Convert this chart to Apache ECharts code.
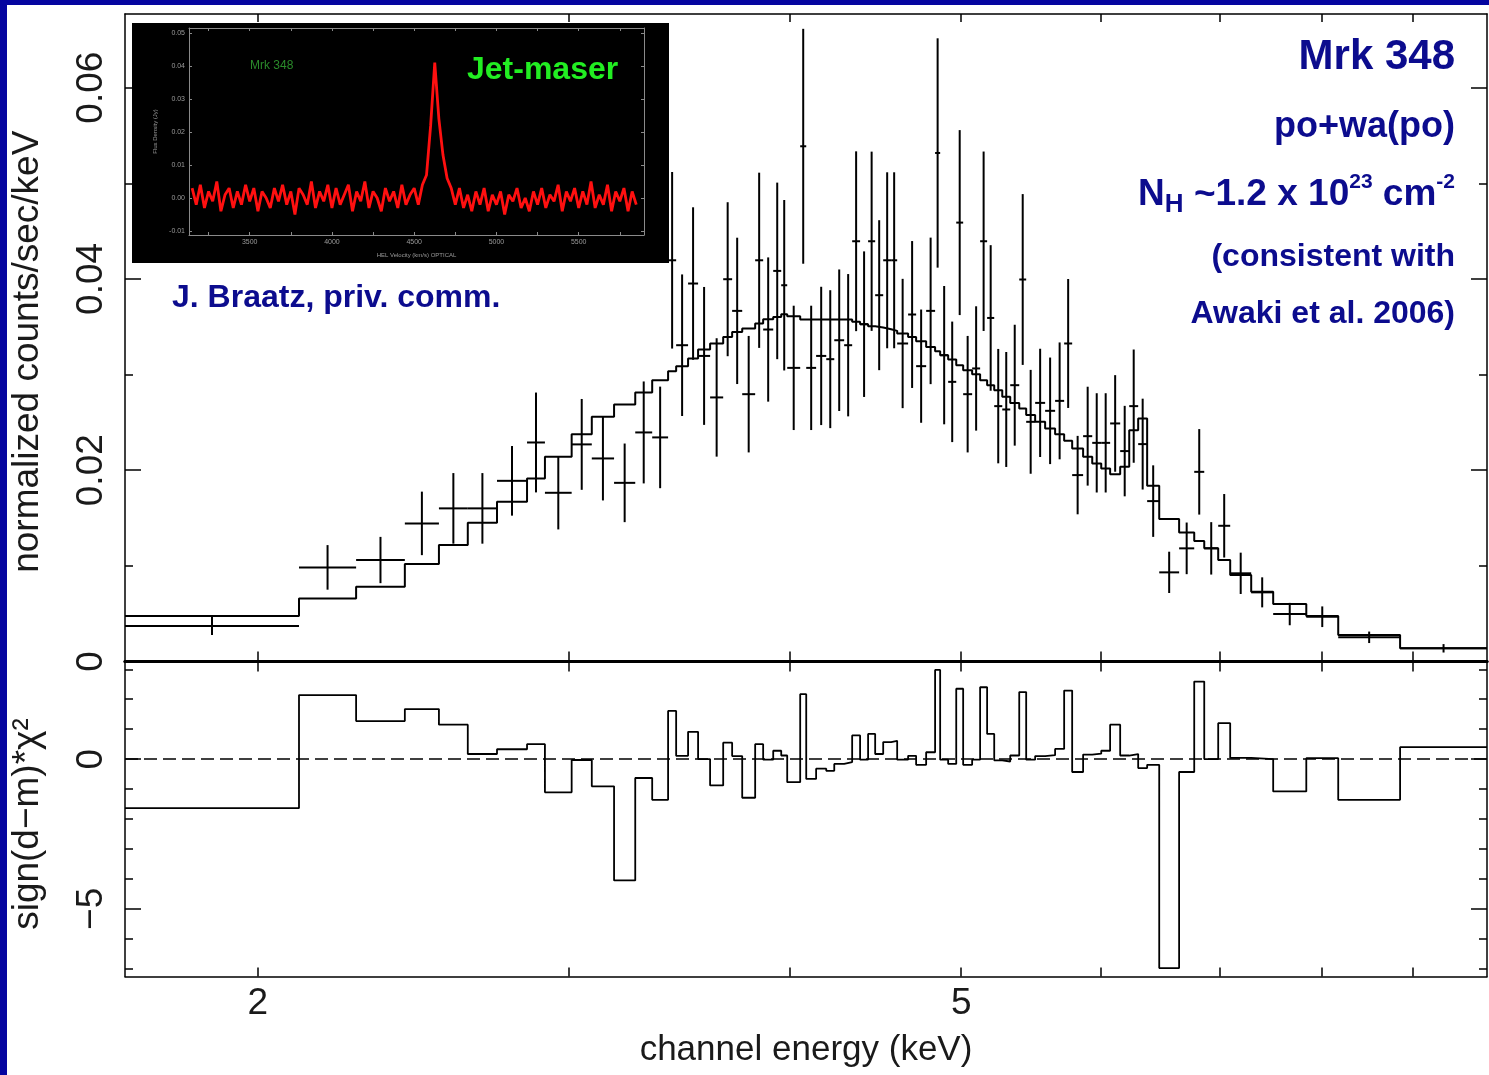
<!DOCTYPE html>
<html>
<head>
<meta charset="utf-8">
<title>Mrk 348 - spectrum and residuals</title>
<script src="https://cdn.jsdelivr.net/npm/echarts@6/dist/echarts.min.js"></script>
<style>
  html, body { margin: 0; padding: 0; background: #0505a0; overflow: hidden; }
  #panel { position: absolute; left: 7px; top: 5px; right: 0; bottom: 0; background: #fff; }
  #chart { position: absolute; left: 0; top: 0; width: 1489px; height: 1075px; }
</style>
</head>
<body>
<div id="panel"></div>
<div id="chart"></div>
<script>
// ---- spectrum (keV bins, counts/sec/keV) ----
var binEdges = [1.682, 2.110, 2.273, 2.422, 2.532, 2.629, 2.731, 2.840, 2.907, 3.010,
  3.090, 3.181, 3.270, 3.343, 3.413, 3.449, 3.503, 3.549, 3.605, 3.667,
  3.710, 3.759, 3.823, 3.863, 3.914, 3.955, 3.986, 4.054, 4.086, 4.139,
  4.194, 4.238, 4.293, 4.338, 4.383, 4.429, 4.470, 4.517, 4.564, 4.600,
  4.666, 4.715, 4.777, 4.833, 4.865, 4.916, 4.968, 5.013, 5.072, 5.125,
  5.172, 5.220, 5.275, 5.330, 5.393, 5.442, 5.506, 5.578, 5.651, 5.718,
  5.778, 5.861, 5.931, 6.001, 6.071, 6.151, 6.224, 6.297, 6.371, 6.472,
  6.642, 6.774, 6.863, 6.989, 7.099, 7.296, 7.508, 7.839, 8.172, 8.858, 9.920];

var dataCounts = [0.00371, 0.00984, 0.01061, 0.01444, 0.01601, 0.01601, 0.01889, 0.02290, 0.01764, 0.02270,
  0.02123, 0.01868, 0.02395, 0.02343, 0.04195, 0.03307, 0.03952, 0.03195, 0.02761, 0.03997,
  0.03666, 0.02795, 0.04195, 0.03471, 0.04084, 0.03934, 0.03070, 0.05387, 0.03070, 0.03195,
  0.03161, 0.03359, 0.03307, 0.04394, 0.03527, 0.04394, 0.03830, 0.04195, 0.04195, 0.03325,
  0.03628, 0.03088, 0.03666, 0.05317, 0.03203, 0.02924, 0.04589, 0.02795, 0.03064, 0.04394,
  0.03592, 0.02670, 0.02635, 0.02889, 0.03994, 0.02506, 0.02704, 0.02621, 0.02725, 0.03325,
  0.01949, 0.02356, 0.02286, 0.02286, 0.02489, 0.02200, 0.02670, 0.02273, 0.01677, 0.00932,
  0.01183, 0.01983, 0.01183, 0.01419, 0.00922, 0.00723, 0.00496, 0.00468, 0.00253, 0.00138];

var dataErr = [0.00094, 0.00233, 0.00242, 0.00332, 0.00369, 0.00369, 0.00364, 0.00522, 0.00383, 0.00475,
  0.00439, 0.00411, 0.00533, 0.00531, 0.00923, 0.00740, 0.00797, 0.00721, 0.00619, 0.00805,
  0.00765, 0.00609, 0.00916, 0.00754, 0.00923, 0.00891, 0.00650, 0.01228, 0.00650, 0.00723,
  0.00721, 0.00740, 0.00744, 0.00940, 0.00761, 0.00937, 0.00784, 0.00920, 0.00920, 0.00676,
  0.00768, 0.00592, 0.00766, 0.01199, 0.00723, 0.00630, 0.00967, 0.00609, 0.00650, 0.00938,
  0.00761, 0.00598, 0.00601, 0.00632, 0.00893, 0.00543, 0.00566, 0.00557, 0.00611, 0.00674,
  0.00410, 0.00517, 0.00519, 0.00519, 0.00505, 0.00473, 0.00592, 0.00475, 0.00374, 0.00216,
  0.00270, 0.00447, 0.00274, 0.00332, 0.00216, 0.00157, 0.00117, 0.00108, 0.00060, 0.00044];

var modelCounts = [0.00475, 0.00660, 0.00782, 0.01019, 0.01217, 0.01450, 0.01670, 0.01914, 0.02140, 0.02377,
  0.02558, 0.02688, 0.02813, 0.02941, 0.03036, 0.03088, 0.03168, 0.03262, 0.03325, 0.03394,
  0.03446, 0.03482, 0.03534, 0.03579, 0.03603, 0.03631, 0.03610, 0.03576, 0.03576, 0.03576,
  0.03576, 0.03576, 0.03576, 0.03551, 0.03527, 0.03506, 0.03492, 0.03474, 0.03457, 0.03429,
  0.03394, 0.03349, 0.03289, 0.03245, 0.03203, 0.03158, 0.03098, 0.03046, 0.03004, 0.02941,
  0.02889, 0.02837, 0.02767, 0.02704, 0.02646, 0.02576, 0.02506, 0.02437, 0.02377, 0.02307,
  0.02228, 0.02140, 0.02071, 0.02019, 0.01959, 0.02036, 0.02419, 0.02541, 0.01837, 0.01489,
  0.01350, 0.01259, 0.01183, 0.01061, 0.00904, 0.00729, 0.00601, 0.00475, 0.00277, 0.00138];

// sign(d-m)*chi^2 per bin
var residChi2 = [-1.64, 2.14, 1.27, 1.67, 1.15, 0.17, 0.33, 0.50, -1.11, -0.03,
  -0.91, -4.05, -0.63, -1.36, 1.61, 0.11, 0.91, 0.00, -0.88, 0.55,
  0.10, -1.29, 0.50, -0.02, 0.28, 0.12, -0.77, 2.17, -0.66, -0.32,
  -0.39, -0.16, -0.10, 0.79, -0.02, 0.84, 0.17, 0.57, 0.61, -0.02,
  0.11, -0.19, 0.23, 2.98, -0.02, -0.16, 2.35, -0.19, -0.02, 2.40,
  0.84, -0.04, -0.08, 0.12, 2.24, -0.02, 0.10, 0.13, 0.34, 2.29,
  -0.43, 0.15, 0.18, 0.28, 1.15, 0.12, 0.17, -0.30, -0.19, -6.98,
  -0.43, 2.59, 0.00, 1.20, 0.04, 0.00, -1.08, 0.03, -1.36, 0.40];

var energyTicks = [2, 3, 4, 5, 6, 7, 8, 9];
var energyLabels = [2, 5];
var countTicksMajor = [0, 0.02, 0.04, 0.06];
var countTicksMinor = [0.01, 0.03, 0.05];
var residTicksMajor = [-5, 0];
var residTicksMinor = [-7, -6, -4, -3, -2, -1, 1, 2, 3];

// ---- inset: maser spectrum (J. Braatz) ----
var insetV0 = 3150, insetDV = 25;   // km/s channel grid
var insetFlux = [0.003, -0.002, 0.004, -0.003, 0.002, -0.001, 0.005, -0.004, 0.001, 0.003,
  -0.003, 0.002, -0.002, 0.004, -0.001, 0.003, -0.004, 0.002, 0.000, -0.003,
  0.003, -0.001, 0.004, -0.002, 0.002, -0.005, 0.003, 0.001, -0.002, 0.005,
  -0.003, 0.002, -0.001, 0.004, -0.003, 0.003, -0.002, 0.001, 0.004, -0.004,
  0.002, -0.001, 0.005, -0.003, 0.002, 0.000, -0.004, 0.003, -0.001, 0.002,
  -0.003, 0.004, -0.002, 0.001, 0.003, -0.002, 0.004,
  0.007, 0.022, 0.041, 0.024, 0.013, 0.006, 0.003,
  -0.002, 0.003, -0.003, 0.001, -0.004, 0.002, -0.002, 0.003, -0.004, 0.001,
  -0.002, 0.002, -0.005, 0.001, -0.001, 0.003, -0.003, 0.000, -0.004, 0.002,
  -0.002, 0.003, -0.003, 0.001, -0.001, 0.004, -0.004, 0.002, -0.001, 0.003,
  -0.003, 0.002, -0.002, 0.005, -0.003, 0.001, -0.002, 0.004, -0.004, 0.002,
  -0.001, 0.003, -0.004, 0.002, -0.002];
var insetVelLabels = [3500, 4000, 4500, 5000, 5500];
var insetVelTicks = [3250, 3500, 3750, 4000, 4250, 4500, 4750, 5000, 5250, 5500, 5750];
var insetFluxLabels = [-0.01, 0, 0.01, 0.02, 0.03, 0.04, 0.05];

var lg = Math.log10;
var xMin = lg(1.682), xMax = lg(9.92);
var navy = '#0c0c8e';
var font = 'Liberation Sans';

var crossData = [], modelLine = [], residLine = [];
for (var i = 0; i < dataCounts.length; i++) {
  crossData.push([lg(binEdges[i]), lg(binEdges[i + 1]), dataCounts[i], dataErr[i]]);
  modelLine.push([lg(binEdges[i]), modelCounts[i]]);
  residLine.push([lg(binEdges[i]), residChi2[i]]);
}
var nLast = dataCounts.length;
modelLine.push([lg(binEdges[nLast]), modelCounts[nLast - 1]]);
residLine.push([lg(binEdges[nLast]), residChi2[nLast - 1]]);

var insetLine = insetFlux.map(function (f, k) { return [insetV0 + k * insetDV, f]; });

function renderCross(params, api) {
  var x0 = api.value(0), x1 = api.value(1), y = api.value(2), e = api.value(3);
  var xc = (x0 + x1) / 2;
  var a = api.coord([x0, y]), b = api.coord([x1, y]);
  var t = api.coord([xc, y + e]), u = api.coord([xc, y - e]);
  var st = { stroke: '#000', lineWidth: 2 };
  return { type: 'group', children: [
    { type: 'line', shape: { x1: a[0], y1: a[1], x2: b[0], y2: b[1] }, style: st },
    { type: 'line', shape: { x1: t[0], y1: t[1], x2: u[0], y2: u[1] }, style: st }
  ]};
}

var black = { color: '#000', width: 1.5 };
function kevAxis(grid, pos, tickLen, lineW) {
  return {
    gridIndex: grid, type: 'value', position: pos, min: xMin, max: xMax,
    axisLine: { show: true, onZero: false, lineStyle: { color: '#000', width: lineW } },
    axisTick: { show: true, inside: true, length: tickLen, customValues: energyTicks.map(lg), lineStyle: black },
    axisLabel: { show: false }, splitLine: { show: false }
  };
}
function valAxis(grid, pos, mn, mx, ticks, tickLen, showLine) {
  return {
    gridIndex: grid, type: 'value', position: pos, min: mn, max: mx,
    axisLine: { show: showLine, onZero: false, lineStyle: black },
    axisTick: { show: true, inside: true, length: tickLen, customValues: ticks, lineStyle: black },
    axisLabel: { show: false }, splitLine: { show: false }
  };
}

var labelStyle = { color: '#1a1a1a', fontSize: 37, fontFamily: font };
var nameStyle = { color: '#1a1a1a', fontSize: 37, fontFamily: font };

var xBottom = kevAxis(1, 'bottom', 9, 1.5);
xBottom.axisLabel = Object.assign({ show: true, margin: 9,
  customValues: energyLabels.map(lg),
  formatter: function (v) { return String(Math.round(Math.pow(10, v))); } }, labelStyle);
xBottom.name = 'channel energy (keV)';
xBottom.nameLocation = 'middle';
xBottom.nameGap = 56;
xBottom.nameTextStyle = Object.assign({}, nameStyle, { fontSize: 35 });

var yTop = valAxis(0, 'left', 0, 0.0677, countTicksMajor, 16, true);
yTop.axisLabel = Object.assign({ show: true, rotate: 90, margin: 15, customValues: countTicksMajor,
  formatter: function (v) { return v === 0 ? '0' : v.toFixed(2); } }, labelStyle);
yTop.name = 'normalized counts/sec/keV';
yTop.nameLocation = 'middle';
yTop.nameRotate = 90;
yTop.nameGap = 79;
yTop.nameTextStyle = Object.assign({ padding: [0, 28, 0, 0] }, nameStyle);

var yRes = valAxis(1, 'left', -7.26, 3.26, residTicksMajor, 16, true);
yRes.axisLabel = Object.assign({ show: true, rotate: 90, margin: 15, customValues: residTicksMajor,
  formatter: function (v) { return v < 0 ? '\u2212' + (-v) : String(v); } }, labelStyle);
yRes.name = 'sign(d\u2212m)*\u03c7\u00b2';
yRes.nameLocation = 'middle';
yRes.nameRotate = 90;
yRes.nameGap = 79;
yRes.nameTextStyle = Object.assign({ padding: [0, 10, 0, 0] }, nameStyle);

var insetGrey = { color: '#8a8a8a', width: 1 };
var insetLabel = { show: true, color: '#9a9a9a', fontSize: 7, fontFamily: font, margin: 4 };

var chart = echarts.init(document.getElementById('chart'));
chart.setOption({
  animation: false,
  textStyle: { fontFamily: font },
  grid: [
    { left: 125, top: 14, width: 1362, height: 647.5 },
    { left: 125, top: 661.5, width: 1362, height: 315 },
    { left: 189, top: 28, width: 455, height: 207 }
  ],
  xAxis: [
    kevAxis(0, 'bottom', 10, 3),
    kevAxis(0, 'top', 8, 1.5),
    xBottom,
    kevAxis(1, 'top', 10, 3),
    {
      gridIndex: 2, type: 'value', position: 'bottom', min: 3131, max: 5897, z: 5,
      axisLine: { show: true, onZero: false, lineStyle: insetGrey },
      axisTick: { show: true, inside: true, length: 3, customValues: insetVelTicks, lineStyle: insetGrey },
      axisLabel: Object.assign({ customValues: insetVelLabels,
        formatter: function (v) { return String(v); } }, insetLabel),
      splitLine: { show: false },
      name: 'HEL Velocity (km/s) OPTICAL', nameLocation: 'middle', nameGap: 17,
      nameTextStyle: { color: '#9a9a9a', fontSize: 6, fontFamily: font }
    },
    {
      gridIndex: 2, type: 'value', position: 'top', min: 3131, max: 5897, z: 5,
      axisLine: { show: true, onZero: false, lineStyle: insetGrey },
      axisTick: { show: true, inside: true, length: 3, customValues: insetVelTicks, lineStyle: insetGrey },
      axisLabel: { show: false }, splitLine: { show: false }
    }
  ],
  yAxis: [
    yTop,
    valAxis(0, 'left', 0, 0.0677, countTicksMinor, 8, false),
    valAxis(0, 'right', 0, 0.0677, countTicksMajor, 16, true),
    valAxis(0, 'right', 0, 0.0677, countTicksMinor, 8, false),
    yRes,
    valAxis(1, 'left', -7.26, 3.26, residTicksMinor, 8, false),
    valAxis(1, 'right', -7.26, 3.26, residTicksMajor, 16, true),
    valAxis(1, 'right', -7.26, 3.26, residTicksMinor, 8, false),
    {
      gridIndex: 2, type: 'value', position: 'left', min: -0.0112, max: 0.0515, z: 5,
      axisLine: { show: true, onZero: false, lineStyle: insetGrey },
      axisTick: { show: true, inside: true, length: 3, customValues: insetFluxLabels, lineStyle: insetGrey },
      axisLabel: Object.assign({ customValues: insetFluxLabels,
        formatter: function (v) { return v.toFixed(2); } }, insetLabel),
      splitLine: { show: false },
      name: 'Flux Density (Jy)', nameLocation: 'middle', nameRotate: 90, nameGap: 31,
      nameTextStyle: { color: '#9a9a9a', fontSize: 6, fontFamily: font }
    },
    {
      gridIndex: 2, type: 'value', position: 'right', min: -0.0112, max: 0.0515, z: 5,
      axisLine: { show: true, onZero: false, lineStyle: insetGrey },
      axisTick: { show: true, inside: true, length: 3, customValues: insetFluxLabels, lineStyle: insetGrey },
      axisLabel: { show: false }, splitLine: { show: false }
    }
  ],
  series: [
    {
      name: 'model', type: 'line', xAxisIndex: 0, yAxisIndex: 0, step: 'end',
      data: modelLine, showSymbol: false, symbol: 'none',
      lineStyle: { color: '#000', width: 2 }
    },
    {
      name: 'data', type: 'custom', xAxisIndex: 0, yAxisIndex: 0,
      renderItem: renderCross, data: crossData, encode: { x: [0, 1], y: 2 }
    },
    {
      name: 'residuals', type: 'line', xAxisIndex: 2, yAxisIndex: 4, step: 'end',
      data: residLine, showSymbol: false, symbol: 'none',
      lineStyle: { color: '#000', width: 1.8 },
      markLine: {
        silent: true, symbol: 'none', label: { show: false },
        lineStyle: { color: '#000', width: 1.5, type: [13, 6] },
        data: [{ yAxis: 0 }]
      }
    },
    {
      name: 'maser', type: 'line', xAxisIndex: 4, yAxisIndex: 8, z: 6,
      data: insetLine, showSymbol: false, symbol: 'none',
      lineStyle: { color: '#ff1010', width: 2.8 }
    }
  ],
  graphic: [
    { type: 'rect', z: 3, shape: { x: 132, y: 23, width: 537, height: 240 }, style: { fill: '#000' } },
    { type: 'text', z: 10, x: 250, y: 66, style: { text: 'Mrk 348', font: '12px ' + font, fill: '#2a8a2a',
      align: 'left', verticalAlign: 'middle', textAlign: 'left', textVerticalAlign: 'middle' } },
    { type: 'text', z: 10, x: 467, y: 70, style: { text: 'Jet-maser', font: 'bold 32px ' + font, fill: '#22ee22',
      align: 'left', verticalAlign: 'middle', textAlign: 'left', textVerticalAlign: 'middle' } },
    { type: 'text', z: 10, x: 172, y: 298, style: { text: 'J. Braatz, priv. comm.', font: 'bold 32px ' + font, fill: navy,
      align: 'left', verticalAlign: 'middle', textAlign: 'left', textVerticalAlign: 'middle' } },
    { type: 'text', z: 10, x: 1455, y: 57, style: { text: 'Mrk 348', font: 'bold 42px ' + font, fill: navy,
      align: 'right', verticalAlign: 'middle', textAlign: 'right', textVerticalAlign: 'middle' } },
    { type: 'text', z: 10, x: 1455, y: 127, style: { text: 'po+wa(po)', font: 'bold 36px ' + font, fill: navy,
      align: 'right', verticalAlign: 'middle', textAlign: 'right', textVerticalAlign: 'middle' } },
    { type: 'text', z: 10, x: 1455, y: 195, style: {
      text: '{b|N}{sub|H}{b| ~1.2 x 10}{sup|23}{b| cm}{sup|-2}',
      align: 'right', verticalAlign: 'middle', textAlign: 'right', textVerticalAlign: 'middle',
      rich: {
        b: { font: 'bold 37px ' + font, fill: navy, lineHeight: 46 },
        sub: { font: 'bold 26px ' + font, fill: navy, lineHeight: 18, verticalAlign: 'bottom' },
        sup: { font: 'bold 21px ' + font, fill: navy, lineHeight: 32, verticalAlign: 'top' }
      } } },
    { type: 'text', z: 10, x: 1455, y: 257, style: { text: '(consistent with', font: 'bold 32px ' + font, fill: navy,
      align: 'right', verticalAlign: 'middle', textAlign: 'right', textVerticalAlign: 'middle' } },
    { type: 'text', z: 10, x: 1455, y: 314, style: { text: 'Awaki et al. 2006)', font: 'bold 32px ' + font, fill: navy,
      align: 'right', verticalAlign: 'middle', textAlign: 'right', textVerticalAlign: 'middle' } }
  ]
});
</script>
</body>
</html>
